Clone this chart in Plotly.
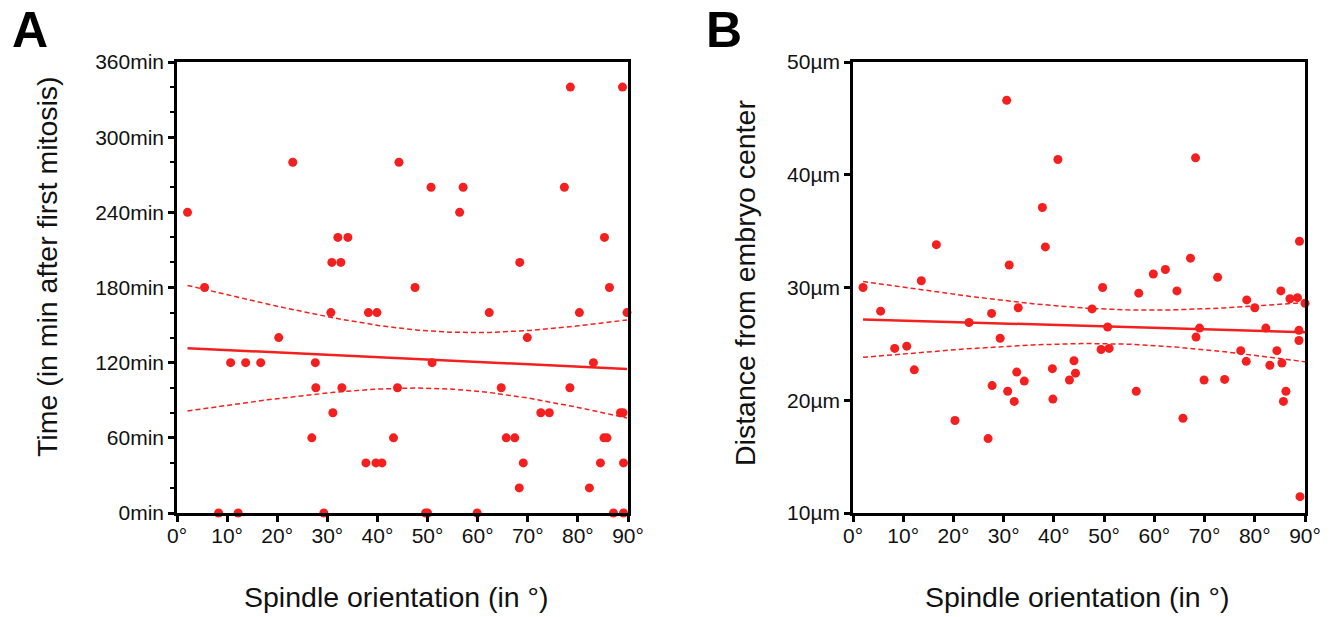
import numpy as np
import plotly.graph_objects as go

# ---- Panel A data: spindle orientation (deg) vs time (min after first mitosis)
angle_a = [2.1, 23.1, 44.3, 32.1, 34.1, 30.9, 32.7, 5.5, 78.5, 88.9,
           50.7, 57.1, 77.3, 56.4, 85.3, 68.4, 47.5, 86.3, 30.7, 38.2,
           39.9, 20.3, 10.7, 13.7, 16.7, 27.6, 27.7, 32.9, 44.0, 31.1,
           26.9, 43.2, 37.7, 39.7, 40.9, 8.3, 12.2, 29.3, 62.3, 80.3,
           89.8, 69.9, 50.9, 83.1, 64.7, 78.4, 72.6, 74.3, 88.5, 89.0,
           65.7, 67.4, 85.2, 85.8, 69.1, 84.5, 89.1, 68.3, 82.3, 49.6,
           50.0, 59.9, 87.1, 89.1]
time_a = [240, 280, 280, 220, 220, 200, 200, 180, 340, 340,
          260, 260, 260, 240, 220, 200, 180, 180, 160, 160,
          160, 140, 120, 120, 120, 120, 100, 100, 100, 80,
          60, 60, 40, 40, 40, 0, 0, 0, 160, 160,
          160, 140, 120, 120, 100, 100, 80, 80, 80, 80,
          60, 60, 60, 60, 40, 40, 40, 20, 20, 0,
          0, 0, 0, 0]

# ---- Panel B data: spindle orientation (deg) vs distance from embryo center (um)
angle_b = [30.6, 40.8, 37.7, 16.6, 38.3, 31.1, 13.6, 2.0, 68.2, 88.9,
           67.2, 62.2, 59.8, 72.6, 49.7, 56.9, 64.5, 85.2, 87.0, 88.5,
           90.0, 78.4, 80.0, 47.6, 50.7, 69.0, 82.2, 88.8, 68.3, 88.8,
           49.4, 51.0, 77.2, 84.4, 78.3, 83.0, 85.4, 56.4, 69.9, 74.0,
           86.2, 85.7, 65.7, 89.0, 5.5, 27.6, 32.9, 23.1, 29.3, 8.3,
           10.7, 12.2, 32.6, 34.1, 39.7, 27.7, 30.8, 32.1, 39.8, 43.1,
           44.0, 44.3, 20.3, 26.9]
dist_b = [46.6, 41.35, 37.1, 33.8, 33.6, 32.0, 30.6, 30.0, 41.5, 34.1,
          32.6, 31.6, 31.2, 30.9, 30.0, 29.5, 29.7, 29.7, 29.0, 29.1,
          28.6, 28.9, 28.2, 28.1, 26.5, 26.4, 26.4, 26.2, 25.6, 25.3,
          24.5, 24.6, 24.4, 24.4, 23.45, 23.1, 23.3, 20.8, 21.8, 21.85,
          20.8, 19.9, 18.4, 11.45, 27.9, 27.7, 28.2, 26.9, 25.5, 24.6,
          24.8, 22.7, 22.5, 21.7, 22.8, 21.3, 20.8, 19.9, 20.1, 21.8,
          23.5, 22.4, 18.2, 16.6]

x_ticks = [0, 10, 20, 30, 40, 50, 60, 70, 80, 90]
y_ticks_a = [0, 60, 120, 180, 240, 300, 360]
y_ticks_b = [10, 20, 30, 40, 50]
x_labels = [f"{v}°" for v in x_ticks]
y_labels_a = [f"{v}min" for v in y_ticks_a]
y_labels_b = [f"{v}µm" for v in y_ticks_b]

T95 = 2.0  # approx. t quantile for ~60 degrees of freedom

RED = "#f41f1f"
FONT = "Liberation Sans, Arial, Helvetica, sans-serif"


def fit_with_ci(x, y):
    x = np.asarray(x, float)
    y = np.asarray(y, float)
    n = len(x)
    slope, intercept = np.polyfit(x, y, 1)
    resid = y - (slope * x + intercept)
    s = np.sqrt(np.sum(resid ** 2) / (n - 2))
    xm = x.mean()
    sxx = np.sum((x - xm) ** 2)
    xs = np.linspace(x.min(), x.max(), 100)
    ys = slope * xs + intercept
    half = T95 * s * np.sqrt(1.0 / n + (xs - xm) ** 2 / sxx)
    return xs, ys, ys - half, ys + half


fig = go.Figure()


def add_panel(x, y, xa, ya):
    xs, ys, lo, hi = fit_with_ci(x, y)
    for band in (lo, hi):
        fig.add_trace(go.Scatter(x=xs, y=band, mode="lines", xaxis=xa, yaxis=ya,
                                 line=dict(color=RED, width=1.5, dash="5px,3px"),
                                 hoverinfo="skip", showlegend=False))
    fig.add_trace(go.Scatter(x=xs, y=ys, mode="lines", xaxis=xa, yaxis=ya,
                             line=dict(color=RED, width=2.5),
                             hoverinfo="skip", showlegend=False))
    fig.add_trace(go.Scatter(x=x, y=y, mode="markers", xaxis=xa, yaxis=ya,
                             marker=dict(color=RED, size=9, line=dict(width=0)),
                             cliponaxis=False, showlegend=False))


add_panel(angle_a, time_a, "x", "y")
add_panel(angle_b, dist_b, "x2", "y2")

W = 1332
H = 617


def px(v):
    return v / W


def py(v):
    return 1 - v / H


ydom = [py(513), py(62)]

common_axis = dict(showgrid=False, zeroline=False, showline=True, linecolor="black",
                   linewidth=2.5, mirror=True, ticks="outside", ticklen=6,
                   tickwidth=2.5, tickcolor="black", automargin=False,
                   tickmode="array",
                   tickfont=dict(family=FONT, size=21, color="#111111"))

fig.update_layout(
    template="none",
    width=W, height=H,
    margin=dict(l=0, r=0, t=0, b=0, pad=0),
    paper_bgcolor="white", plot_bgcolor="white",
    xaxis=dict(domain=[px(177), px(628)], range=[0, 90], tickvals=x_ticks,
               ticktext=x_labels, anchor="y", ticklabelstandoff=-4, **common_axis),
    yaxis=dict(domain=ydom, range=[0, 360], tickvals=y_ticks_a, ticktext=y_labels_a,
               anchor="x",
               minor=dict(tickmode="linear", tick0=0, dtick=20, ticks="outside",
                          ticklen=4, tickwidth=2, tickcolor="black", showgrid=False),
               **common_axis),
    xaxis2=dict(domain=[px(853), px(1305)], range=[0, 90], tickvals=x_ticks,
                ticktext=x_labels, anchor="y2", ticklabelstandoff=-4, **common_axis),
    yaxis2=dict(domain=ydom, range=[10, 50], tickvals=y_ticks_b, ticktext=y_labels_b,
                anchor="x2", **common_axis),
)

title_font = dict(family=FONT, size=28.5, color="#111111")
annotations = [
    dict(text="Spindle orientation (in °)", x=px(396), y=py(597), font=title_font,
         yanchor="middle"),
    dict(text="Spindle orientation (in °)", x=px(1077), y=py(597), font=title_font,
         yanchor="middle"),
    dict(text="Time (in min after first mitosis)", x=px(47), y=py(267),
         textangle=-90, font=title_font, yanchor="middle"),
    dict(text="Distance from embryo center", x=px(745), y=py(283),
         textangle=-90, font=title_font, yanchor="middle"),
    dict(text="<b>A</b>", x=px(30), y=1.0, yanchor="top",
         font=dict(family=FONT, size=50, color="black")),
    dict(text="<b>B</b>", x=px(724), y=1.0, yanchor="top",
         font=dict(family=FONT, size=50, color="black")),
]
for a in annotations:
    a.update(xref="paper", yref="paper", showarrow=False, xanchor="center")
fig.update_layout(annotations=annotations)

# remove the default 8px page margin so the figure fills the window exactly
fig.write_html("out.html", config={"displayModeBar": False},
               post_script="document.body.style.margin='0px';")
